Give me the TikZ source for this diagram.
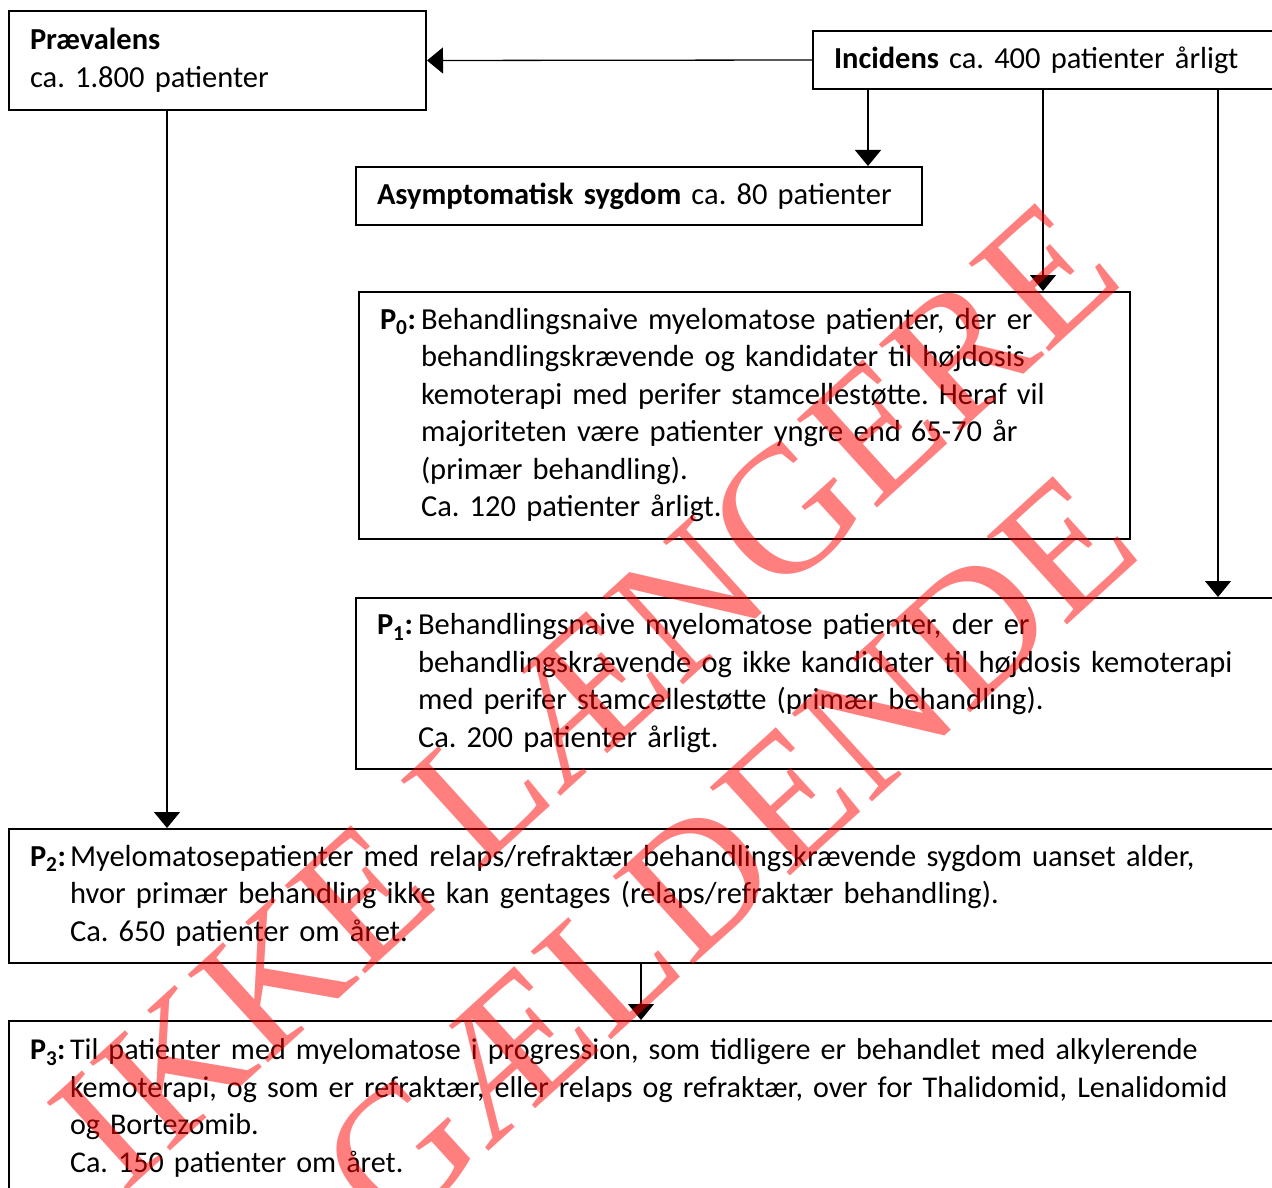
\documentclass[tikz,border=0pt]{standalone}
\usepackage{fontspec}
\setmainfont{Carlito}
\newfontfamily\wmfont{Liberation Serif}
\usetikzlibrary{arrows.meta}
\newcommand{\plab}[1]{\textbf{P\textsubscript{#1}:}}
\frenchspacing

\begin{document}
\begin{tikzpicture}[
  x=1pt, y=-1pt,
  > = {Triangle[width=26pt,length=16pt]},
  box/.style = {draw, line width=2pt, anchor=north west, align=left,
    inner xsep=21pt, inner ysep=0pt, font=\fontsize{30.5}{37.5}\selectfont},
  flow/.style = {->, line width=1.3pt},
  stamp/.style = {text=red, text opacity=0.5, rotate=42.3, inner sep=0pt,
    font=\wmfont\fontsize{182}{222}\selectfont}
  ]
	\clip (0,0) rectangle (1272,1188);

	\node[box, minimum width=417pt, minimum height=99pt, text width=375pt] (prev) at (8,10)
		{\textbf{Prævalens}\\ca. 1.800 patienter};
	\node[box, minimum width=480pt, minimum height=58pt, text width=438pt] (inc) at (812,30)
		{\textbf{Incidens} ca. 400 patienter årligt};
	\node[box, minimum width=566pt, minimum height=58pt, text width=524pt] (asym) at (355,166)
		{\textbf{Asymptomatisk sygdom} ca. 80 patienter};

	\node[box, minimum width=771pt, minimum height=247pt, text width=729pt] (pnul) at (358,291)
		{\begin{tabular}{@{}p{41pt}@{}l@{}}
		\plab{0} & Behandlingsnaive myelomatose patienter, der er\\
		 & behandlingskrævende og kandidater til højdosis\\
		 & kemoterapi med perifer stamcellestøtte. Heraf vil\\
		 & majoriteten være patienter yngre end 65-70 år\\
		 & (primær behandling).\\
		 & Ca. 120 patienter årligt.
		\end{tabular}};
	\node[box, minimum width=937pt, minimum height=171pt, text width=895pt] (pet) at (355,597)
		{\begin{tabular}{@{}p{41pt}@{}l@{}}
		\plab{1} & Behandlingsnaive myelomatose patienter, der er\\
		 & behandlingskrævende og ikke kandidater til højdosis kemoterapi\\
		 & med perifer stamcellestøtte (primær behandling).\\
		 & Ca. 200 patienter årligt.
		\end{tabular}};
	\node[box, minimum width=1284pt, minimum height=134pt, text width=1242pt] (pto) at (8,828)
		{\begin{tabular}{@{}p{40pt}@{}l@{}}
		\plab{2} & Myelomatosepatienter med relaps/refraktær behandlingskrævende sygdom uanset alder,\\
		 & hvor primær behandling ikke kan gentages (relaps/refraktær behandling).\\
		 & Ca. 650 patienter om året.
		\end{tabular}};
	\node[box, minimum width=1284pt, minimum height=175pt, text width=1242pt,
		font=\fontsize{30.1}{37.5}\selectfont] (ptre) at (8,1020)
		{\begin{tabular}{@{}p{40pt}@{}l@{}}
		\plab{3} & Til patienter med myelomatose i progression, som tidligere er behandlet med alkylerende\\
		 & kemoterapi, og som er refraktær, eller relaps og refraktær, over for Thalidomid, Lenalidomid\\
		 & og Bortezomib.\\
		 & Ca. 150 patienter om året.
		\end{tabular}};

	\draw[flow] (inc.west) -- (prev.east);
	\draw[flow] (868,0 |- inc.south) -- (868,0 |- asym.north);
	\draw[flow] (1043,0 |- inc.south) -- (1043,0 |- pnul.north);
	\draw[flow] (1218,0 |- inc.south) -- (1218,0 |- pet.north);
	\draw[flow] (167,0 |- prev.south) -- (167,0 |- pto.north);
	\draw[flow] (641,0 |- pto.south) -- (641,0 |- ptre.north);

	% stempel
	\node[stamp] (wmone) at (585,694) {IKKE LÆNGERE};
	\node[stamp] (wmtwo) at (728,853) {GÆLDENDE};

\end{tikzpicture}
\end{document}
